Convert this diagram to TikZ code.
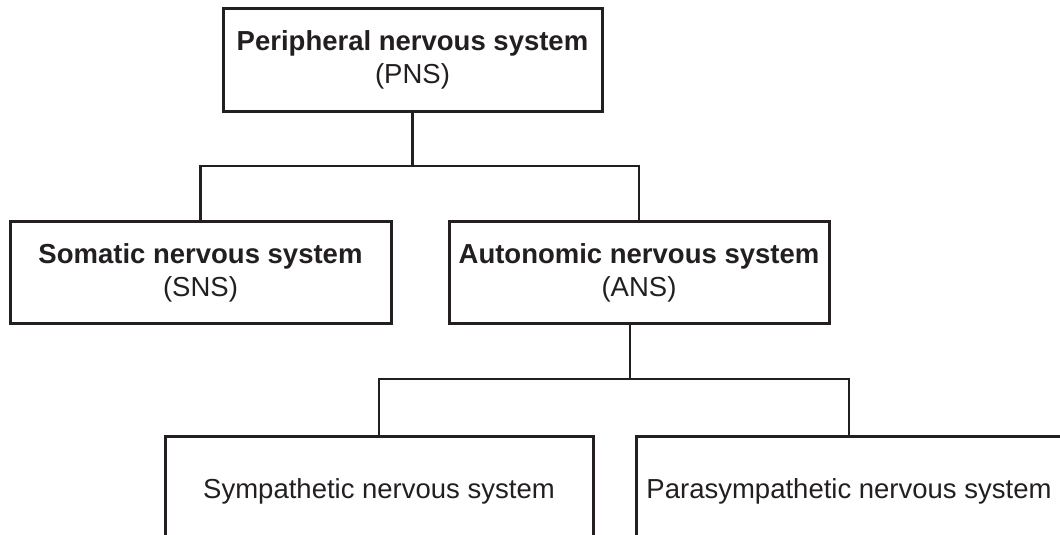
\documentclass[tikz,border=0pt]{standalone}
\usepackage{fontspec}
\setmainfont{Liberation Sans}
\definecolor{ink}{HTML}{231F20}
\begin{document}
\begin{tikzpicture}[x=1pt,y=1pt,
  box/.style={draw=ink, line width=3pt, inner sep=0pt, align=center, text=ink,
    font=\fontsize{27.5}{33}\selectfont},
  conn/.style={draw=ink, line width=2.2pt}]
\useasboundingbox (0,0) rectangle (1060,535);
\clip (0,0) rectangle (1060,535);
\node[box, minimum width=379pt, minimum height=103pt] (pns) at (412.5,475) {\textbf{Peripheral nervous system}\\(PNS)};
\node[box, minimum width=381pt, minimum height=102pt] (sns) at (200.5,262) {\textbf{Somatic nervous system}\\(SNS)};
\node[box, minimum width=380pt, minimum height=102pt] (ans) at (639,262) {\textbf{Autonomic nervous system}\\(ANS)};
\node[box, minimum width=428pt, minimum height=108pt] (sym) at (379,44) {Sympathetic nervous system};
\node[box, minimum width=426pt, minimum height=108pt] (para) at (849,44) {Parasympathetic nervous system};
\coordinate (j1) at (412.5,369);
\coordinate (a1) at ([xshift=-9pt]ans.south);
\coordinate (j2) at (630,156);
\draw[conn] (pns.south) -- (j1);
\draw[conn] (sns.north) |- (j1) -| (ans.north);
\draw[conn] (a1) -- (j2);
\draw[conn] (sym.north) |- (j2) -| (para.north);
\end{tikzpicture}
\end{document}
